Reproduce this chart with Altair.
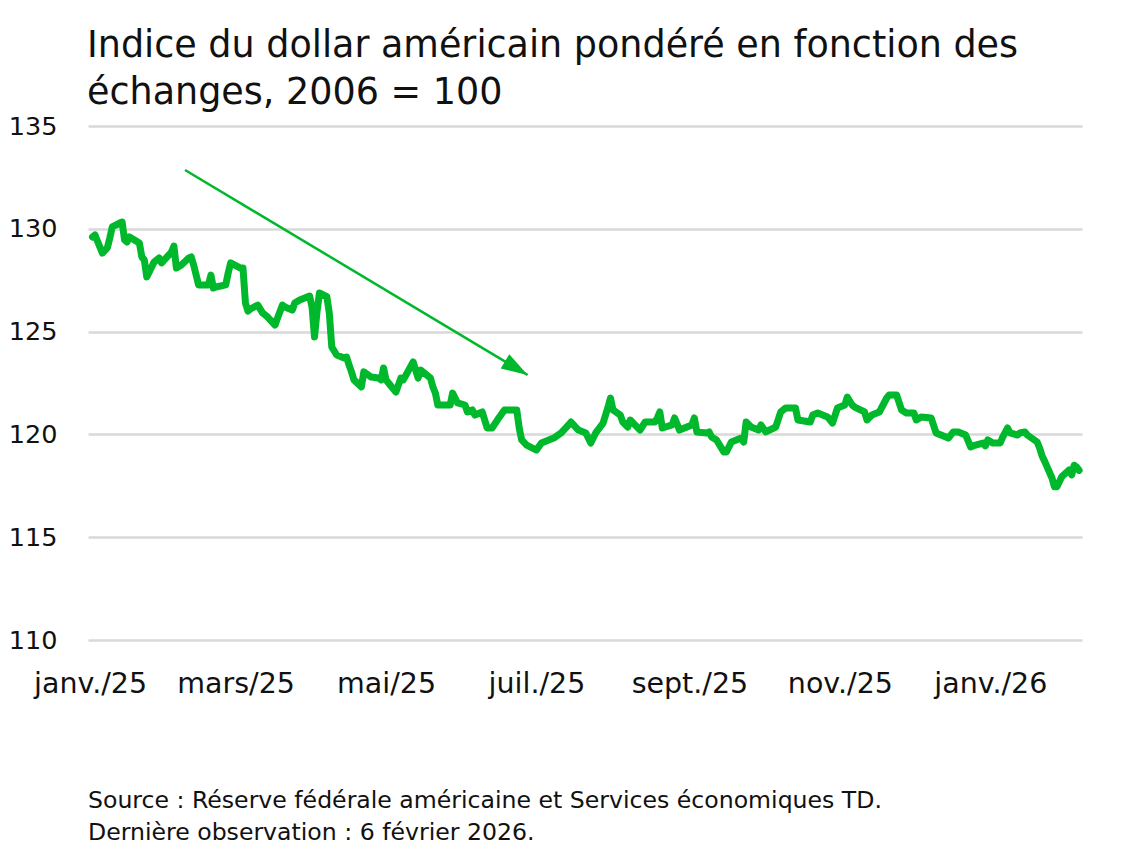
import json
import altair as alt
import pandas as pd

# ---------------- data ----------------
dates = [
    "2025-01-02", "2025-01-03", "2025-01-06", "2025-01-08", "2025-01-09", "2025-01-10",
    "2025-01-13", "2025-01-14", "2025-01-15", "2025-01-16", "2025-01-17", "2025-01-21",
    "2025-01-22", "2025-01-23", "2025-01-24", "2025-01-27", "2025-01-29", "2025-01-30",
    "2025-02-03", "2025-02-04", "2025-02-05", "2025-02-07", "2025-02-10", "2025-02-11",
    "2025-02-12", "2025-02-14", "2025-02-18", "2025-02-19", "2025-02-20", "2025-02-21",
    "2025-02-25", "2025-02-26", "2025-02-27", "2025-03-03", "2025-03-04", "2025-03-05",
    "2025-03-06", "2025-03-07", "2025-03-10", "2025-03-12", "2025-03-14", "2025-03-17",
    "2025-03-18", "2025-03-20", "2025-03-21", "2025-03-24", "2025-03-25", "2025-03-27",
    "2025-03-31", "2025-04-01", "2025-04-02", "2025-04-03", "2025-04-04", "2025-04-07",
    "2025-04-08", "2025-04-09", "2025-04-11", "2025-04-14", "2025-04-15", "2025-04-16",
    "2025-04-17", "2025-04-18", "2025-04-21", "2025-04-22", "2025-04-25", "2025-04-28",
    "2025-04-29", "2025-04-30", "2025-05-01", "2025-05-02", "2025-05-05", "2025-05-07",
    "2025-05-08", "2025-05-12", "2025-05-14", "2025-05-15", "2025-05-19", "2025-05-20",
    "2025-05-21", "2025-05-22", "2025-05-27", "2025-05-28", "2025-05-29", "2025-05-30",
    "2025-06-02", "2025-06-03", "2025-06-05", "2025-06-06", "2025-06-09", "2025-06-11",
    "2025-06-13", "2025-06-16", "2025-06-18", "2025-06-23", "2025-06-24", "2025-06-25",
    "2025-06-27", "2025-07-01", "2025-07-03", "2025-07-08", "2025-07-11", "2025-07-14",
    "2025-07-15", "2025-07-18", "2025-07-21", "2025-07-23", "2025-07-25", "2025-07-28",
    "2025-07-30", "2025-07-31", "2025-08-01", "2025-08-04", "2025-08-05", "2025-08-07",
    "2025-08-08", "2025-08-12", "2025-08-14", "2025-08-18", "2025-08-19", "2025-08-20",
    "2025-08-21", "2025-08-25", "2025-08-26", "2025-08-28", "2025-09-02", "2025-09-03",
    "2025-09-04", "2025-09-08", "2025-09-09", "2025-09-10", "2025-09-12", "2025-09-15",
    "2025-09-16", "2025-09-18", "2025-09-22", "2025-09-23", "2025-09-24", "2025-09-26",
    "2025-09-29", "2025-09-30", "2025-10-02", "2025-10-06", "2025-10-08", "2025-10-10",
    "2025-10-14", "2025-10-15", "2025-10-20", "2025-10-21", "2025-10-23", "2025-10-27",
    "2025-10-29", "2025-10-31", "2025-11-03", "2025-11-04", "2025-11-06", "2025-11-07",
    "2025-11-11", "2025-11-12", "2025-11-14", "2025-11-17", "2025-11-20", "2025-11-21",
    "2025-11-24", "2025-11-26", "2025-11-28", "2025-12-01", "2025-12-02", "2025-12-04",
    "2025-12-08", "2025-12-10", "2025-12-12", "2025-12-15", "2025-12-17", "2025-12-19",
    "2025-12-22", "2025-12-24", "2025-12-26", "2025-12-29", "2025-12-30", "2025-12-31",
    "2026-01-02", "2026-01-05", "2026-01-06", "2026-01-08", "2026-01-09", "2026-01-12",
    "2026-01-13", "2026-01-15", "2026-01-16", "2026-01-20", "2026-01-21", "2026-01-22",
    "2026-01-23", "2026-01-26", "2026-01-27", "2026-01-28", "2026-01-29", "2026-01-30",
    "2026-02-02", "2026-02-03", "2026-02-04", "2026-02-05", "2026-02-06",
]
values = [
    129.60, 129.70, 128.82, 129.07, 129.55, 130.09,
    130.28, 130.33, 129.46, 129.36, 129.60, 129.31,
    128.63, 128.48, 127.66, 128.39, 128.58, 128.34,
    128.87, 129.16, 128.09, 128.24, 128.58, 128.63,
    128.24, 127.27, 127.27, 127.75, 127.12, 127.17,
    127.27, 127.85, 128.34, 128.09, 128.09, 126.39,
    126.00, 126.10, 126.29, 125.90, 125.71, 125.32,
    125.66, 126.29, 126.20, 126.05, 126.39, 126.54,
    126.73, 126.20, 124.74, 125.95, 126.88, 126.70,
    125.90, 124.25, 123.86, 123.72, 123.76, 123.38,
    123.04, 122.65, 122.31, 123.04, 122.79, 122.74,
    122.65, 123.23, 122.65, 122.50, 122.06, 122.74,
    122.65, 123.52, 122.74, 123.13, 122.74, 122.31,
    122.01, 121.43, 121.43, 122.01, 121.77, 121.53,
    121.43, 121.09, 121.19, 120.94, 121.09, 120.31,
    120.31, 120.85, 121.19, 121.19, 120.31, 119.73,
    119.48, 119.24, 119.58, 119.82, 120.07, 120.46,
    120.60, 120.21, 120.07, 119.58, 120.07, 120.55,
    121.33, 121.77, 121.19, 120.94, 120.60, 120.36,
    120.70, 120.21, 120.60, 120.60, 120.80, 121.09,
    120.31, 120.46, 120.80, 120.21, 120.46, 120.80,
    120.12, 120.07, 120.12, 119.87, 119.73, 119.14,
    119.14, 119.63, 119.82, 119.63, 120.60, 120.36,
    120.21, 120.46, 120.12, 120.36, 121.09, 121.28,
    121.28, 120.70, 120.60, 120.94, 121.04, 120.85,
    120.55, 121.28, 121.43, 121.82, 121.43, 121.33,
    121.09, 120.70, 120.94, 121.09, 121.77, 121.92,
    121.92, 121.19, 121.04, 121.04, 120.70, 120.85,
    120.80, 120.07, 119.97, 119.82, 120.12, 120.12,
    119.97, 119.39, 119.48, 119.58, 119.44, 119.73,
    119.58, 119.58, 119.87, 120.31, 120.07, 119.97,
    120.07, 120.12, 119.97, 119.63, 119.34, 118.95,
    118.70, 117.88, 117.45, 117.45, 117.70, 117.95,
    118.27, 118.03, 118.50, 118.41, 118.25,
]

title_lines = ["Indice du dollar américain pondéré en fonction des",
               "échanges, 2006 = 100"]
source_lines = ["Source : Réserve fédérale américaine et Services économiques TD.",
                "Dernière observation : 6 février 2026."]
y_ticks = [110, 115, 120, 125, 130, 135]
x_tick_months = [(2025, 1), (2025, 3), (2025, 5), (2025, 7), (2025, 9), (2025, 11), (2026, 1)]
month_labels_fr = ["janv.", "févr.", "mars", "avr.", "mai", "juin",
                   "juil.", "août", "sept.", "oct.", "nov.", "déc."]

arrow_start = {"date": "2025-02-08T12:00:00", "value": 132.86}
arrow_end = {"date": "2025-06-27T10:00:00", "value": 122.89}

# ---------------- style ----------------
GREEN = "#00B82B"
FONT = "DejaVu Sans"
TXT = "#111111"
W, H = 994, 514

df = pd.DataFrame({"date": dates, "value": values})

x_scale = alt.Scale(domain=[alt.DateTime(year=2024, month=12, date=31, hours=4),
                            alt.DateTime(year=2026, month=2, date=7, hours=4)])
y_scale = alt.Scale(domain=[110, 135], nice=False, zero=False)

label_expr = (json.dumps(month_labels_fr, ensure_ascii=False)
              + "[month(datum.value)] + '/' + timeFormat(datum.value, '%y')")

x_axis = alt.Axis(
    values=[alt.DateTime(year=y, month=m, date=1) for y, m in x_tick_months],
    labelExpr=label_expr, grid=False, domain=False,
    ticks=True, tickSize=0, tickColor="transparent",
    labelFont=FONT, labelFontSize=28.5, labelColor=TXT, labelPadding=29,
    labelFlush=False, labelOverlap=False, labelBound=False, title=None,
)
y_axis = alt.Axis(
    values=y_ticks, grid=True, gridColor="#d9d9d9", gridWidth=2.5,
    domain=False, ticks=True, tickSize=0, tickColor="transparent",
    labelFont=FONT, labelFontSize=25.5,
    labelColor=TXT, labelPadding=31, title=None,
)

line = alt.Chart(df).mark_line(
    color=GREEN, strokeWidth=7, strokeJoin="round", strokeCap="round"
).encode(
    x=alt.X("date:T", scale=x_scale, axis=x_axis),
    y=alt.Y("value:Q", scale=y_scale, axis=y_axis),
)

arrow_df = pd.DataFrame({
    "x": [arrow_start["date"]], "y": [arrow_start["value"]],
    "x2": [arrow_end["date"]], "y2": [arrow_end["value"]],
})
arrow_line = alt.Chart(arrow_df).mark_rule(color=GREEN, strokeWidth=2.5).encode(
    x=alt.X("x:T", scale=x_scale), y=alt.Y("y:Q", scale=y_scale),
    x2="x2:T", y2="y2:Q",
)
head_df = pd.DataFrame({"x": [arrow_end["date"]], "y": [arrow_end["value"]]})
arrow_head = alt.Chart(head_df).mark_point(
    shape="M0,0 L0.63,2 L-0.63,2 Z", filled=True, size=700, angle=121,
    color=GREEN, opacity=1, strokeWidth=0,
).encode(x=alt.X("x:T", scale=x_scale), y=alt.Y("y:Q", scale=y_scale))

dummy = pd.DataFrame({"k": [0]})
title_text = alt.Chart(dummy).mark_text(
    text=title_lines, font=FONT, fontSize=36.5, color=TXT, align="left",
    baseline="alphabetic", lineHeight=47,
).encode(x=alt.value(-1), y=alt.value(-69))

source_text = alt.Chart(dummy).mark_text(
    text=source_lines, font=FONT, fontSize=23.6, color=TXT, align="left",
    baseline="alphabetic", lineHeight=32,
).encode(x=alt.value(0), y=alt.value(682))

chart = alt.layer(line, arrow_line, arrow_head, title_text, source_text).properties(
    width=W, height=H,
    autosize=alt.AutoSizeParams(type="none"),
    padding={"left": 80, "top": 118, "right": 45, "bottom": 205},
).configure(
    background="white",
    view=alt.ViewConfig(stroke="transparent", strokeWidth=0),
)

chart.save("out.html", embed_options={"renderer": "svg", "actions": False})
